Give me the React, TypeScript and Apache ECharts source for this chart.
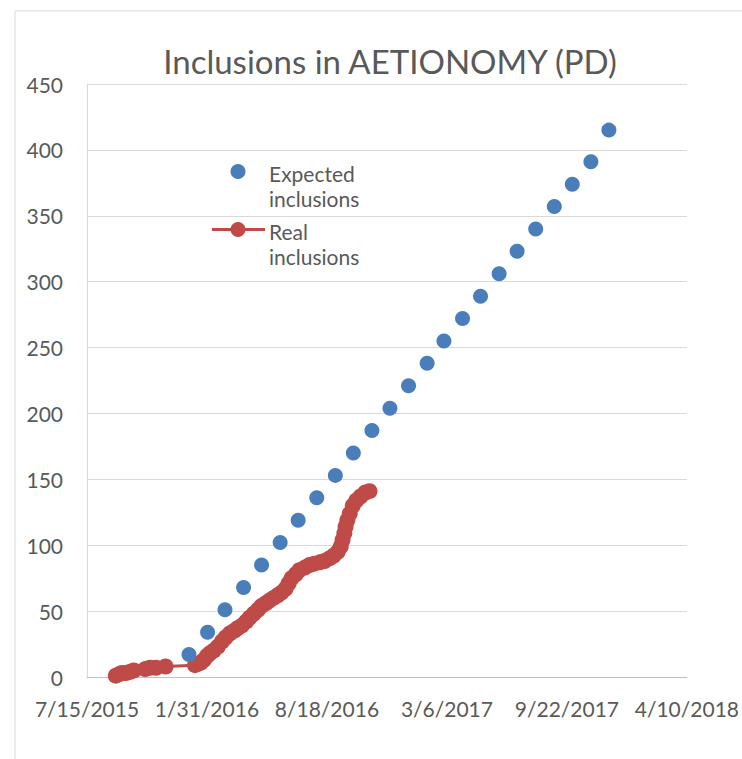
import React, { useEffect, useRef } from "react";
import * as echarts from "echarts";

const AXIS_START = "2015-07-15";
const AXIS_SPAN_DAYS = 1000;
const AXIS_STEP_DAYS = 200;
const Y_MAX = 450;
const Y_STEP = 50;

const expectedDates = [
  "2016-01-01", "2016-02-01", "2016-03-01", "2016-04-01", "2016-05-01", "2016-06-01",
  "2016-07-01", "2016-08-01", "2016-09-01", "2016-10-01", "2016-11-01", "2016-12-01",
  "2017-01-01", "2017-02-01", "2017-03-01", "2017-04-01", "2017-05-01", "2017-06-01",
  "2017-07-01", "2017-08-01", "2017-09-01", "2017-10-01", "2017-11-01", "2017-12-01",
];
const expectedValues = [
  17, 34, 51, 68, 85, 102, 119, 136, 153, 170, 187, 204,
  221, 238, 255, 272, 289, 306, 323, 340, 357, 374, 391, 415,
];

const realDates = [
  "2015-09-01", "2015-09-06", "2015-09-11", "2015-09-18", "2015-09-25", "2015-10-01",
  "2015-10-20", "2015-10-28", "2015-11-07", "2015-11-23", "2016-01-11", "2016-01-16",
  "2016-01-21", "2016-01-26", "2016-01-31", "2016-02-05", "2016-02-11", "2016-02-18",
  "2016-02-25", "2016-03-02", "2016-03-09", "2016-03-16", "2016-03-22", "2016-03-29",
  "2016-04-05", "2016-04-11", "2016-04-18", "2016-04-25", "2016-05-01", "2016-05-08",
  "2016-05-14", "2016-05-21", "2016-05-28", "2016-06-03", "2016-06-10", "2016-06-15",
  "2016-06-20", "2016-06-27", "2016-07-03", "2016-07-12", "2016-07-20", "2016-07-28",
  "2016-08-06", "2016-08-14", "2016-08-22", "2016-08-29", "2016-09-05", "2016-09-10",
  "2016-09-13", "2016-09-16", "2016-09-18", "2016-09-21", "2016-09-25", "2016-09-30",
  "2016-10-06", "2016-10-13", "2016-10-21", "2016-10-28",
];
const realValues = [
  1, 2, 3, 3, 4, 5,
  6, 7, 7, 8, 9, 10,
  11, 13, 16, 18, 20, 23,
  27, 30, 33, 35, 37, 39,
  42, 45, 48, 51, 54, 56,
  58, 60, 62, 64, 67, 71,
  75, 78, 81, 83, 85, 86,
  87, 88, 90, 92, 95, 99,
  104, 109, 114, 119, 124, 130,
  134, 137, 140, 141,
];

const TITLE = "Inclusions in AETIONOMY (PD)";
const LEGEND_EXPECTED = ["Expected", "inclusions"];
const LEGEND_REAL = ["Real", "inclusions"];

const DAY_MS = 86400000;
const startMs = Date.parse(AXIS_START);
const toDay = (d: string) => (Date.parse(d) - startMs) / DAY_MS;
const fmtDay = (v: number) => {
  const d = new Date(startMs + v * DAY_MS);
  return `${d.getUTCMonth() + 1}/${d.getUTCDate()}/${d.getUTCFullYear()}`;
};

const BLUE = "#4a7ebb";
const RED = "#be4b48";
const TEXT = "#595959";
const FONT = "Lato, 'Open Sans', sans-serif";

export default function App() {
  const ref = useRef<HTMLDivElement>(null);
  useEffect(() => {
    if (!ref.current) return;
    const chart = echarts.init(ref.current, undefined, { renderer: "svg" });
    const expected = expectedDates.map((d, i) => [toDay(d), expectedValues[i]]);
    const real = realDates.map((d, i) => [toDay(d), realValues[i]]);
    chart.setOption({
      animation: false,
      backgroundColor: "#ffffff",
      textStyle: { fontFamily: FONT },
      title: {
        text: TITLE,
        left: 385,
        textAlign: "center",
        top: 39,
        textStyle: { fontSize: 33, fontWeight: "normal", color: TEXT, fontFamily: FONT },
      },
      grid: { left: 87, right: 54, top: 84, bottom: 82, containLabel: false },
      xAxis: {
        type: "value",
        min: 0,
        max: AXIS_SPAN_DAYS,
        interval: AXIS_STEP_DAYS,
        axisLine: { show: true, lineStyle: { color: "#bfbfbf", width: 1 } },
        axisTick: { show: false },
        splitLine: { show: false },
        axisLabel: {
          formatter: (v: number) => fmtDay(v),
          color: TEXT,
          fontSize: 21,
          margin: 21,
          fontFamily: FONT,
          showMinLabel: true,
          showMaxLabel: true,
        },
      },
      yAxis: {
        type: "value",
        min: 0,
        max: Y_MAX,
        interval: Y_STEP,
        axisLine: { show: true, lineStyle: { color: "#d9d9d9", width: 1 } },
        axisTick: { show: false },
        splitLine: { show: true, lineStyle: { color: "#d9d9d9", width: 1 } },
        axisLabel: { color: TEXT, fontSize: 21, margin: 24, fontFamily: FONT },
      },
      series: [
        {
          name: "Real inclusions",
          type: "line",
          data: real,
          symbol: "circle",
          symbolSize: 16,
          showAllSymbol: true,
          itemStyle: { color: RED, opacity: 1 },
          lineStyle: { color: RED, width: 3 },
          z: 2,
        },
        {
          name: "Expected inclusions",
          type: "scatter",
          data: expected,
          symbol: "circle",
          symbolSize: 15,
          itemStyle: { color: BLUE, opacity: 1 },
          z: 3,
        },
      ],
      graphic: [
        {
          type: "rect",
          shape: { x: 15, y: 11, width: 800, height: 800 },
          style: { fill: "none", stroke: "#d9d9d9", lineWidth: 1 },
          silent: true,
        },
        { type: "circle", shape: { cx: 238, cy: 171.5, r: 7.5 }, style: { fill: BLUE } },
        {
          type: "text",
          x: 269,
          y: 161,
          style: { text: LEGEND_EXPECTED.join("\n"), fill: TEXT, fontSize: 21, lineHeight: 25, fontFamily: FONT },
        },
        { type: "line", shape: { x1: 212, y1: 229.5, x2: 265, y2: 229.5 }, style: { stroke: RED, lineWidth: 3 } },
        { type: "circle", shape: { cx: 238, cy: 229.5, r: 7.5 }, style: { fill: RED } },
        {
          type: "text",
          x: 269,
          y: 219,
          style: { text: LEGEND_REAL.join("\n"), fill: TEXT, fontSize: 21, lineHeight: 25, fontFamily: FONT },
        },
      ],
    });
    return () => chart.dispose();
  }, []);
  return <div ref={ref} style={{ position: "fixed", left: 0, top: 0, width: 742, height: 759 }} />;
}
